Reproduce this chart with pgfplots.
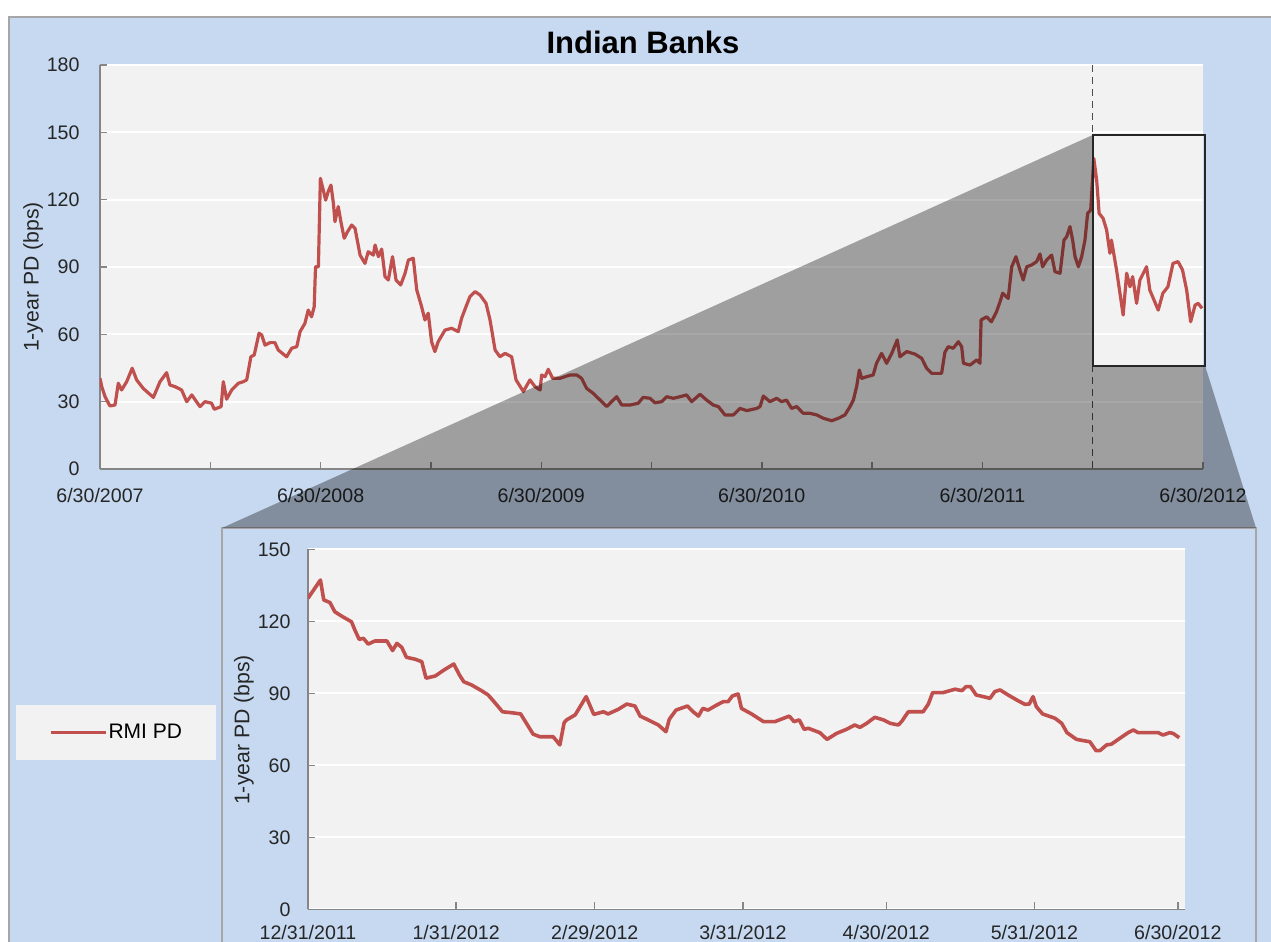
\documentclass[border=0pt]{standalone}
\usepackage{pgfplots}
\usepackage{pgfplotstable}
\pgfplotsset{compat=1.18}
\usepackage{fontspec}
\setmainfont{Liberation Sans}
\definecolor{bgblue}{HTML}{C6D9F0}
\definecolor{plotbg}{HTML}{F2F2F2}
\definecolor{axgray}{HTML}{868686}
\definecolor{rmired}{HTML}{C0504D}
\definecolor{framegray}{HTML}{A6A6A6}

\pgfplotstableread{
t v
2007.500 40.4
2007.508 36.7
2007.523 32.2
2007.545 28.1
2007.568 28.5
2007.583 38.2
2007.598 35.2
2007.621 38.9
2007.646 44.9
2007.666 39.7
2007.696 35.9
2007.742 31.9
2007.772 38.9
2007.802 42.9
2007.817 37.4
2007.840 36.7
2007.870 35.2
2007.893 30.0
2007.916 33.0
2007.953 27.8
2007.976 30.0
2008.006 29.3
2008.018 26.6
2008.049 27.8
2008.059 38.9
2008.074 31.1
2008.097 35.2
2008.127 38.2
2008.150 38.9
2008.165 39.7
2008.184 50.0
2008.199 50.8
2008.221 60.5
2008.233 59.7
2008.248 55.2
2008.271 56.3
2008.293 56.3
2008.308 53.0
2008.346 50.0
2008.369 53.8
2008.392 54.5
2008.407 61.2
2008.429 64.9
2008.444 70.8
2008.459 67.8
2008.471 72.3
2008.477 90.1
2008.490 90.1
2008.499 129.5
2008.512 124.3
2008.523 119.8
2008.534 123.5
2008.547 126.5
2008.558 118.4
2008.565 110.2
2008.580 116.9
2008.592 110.2
2008.607 102.8
2008.622 105.7
2008.641 108.7
2008.656 107.2
2008.679 95.3
2008.701 91.6
2008.716 96.8
2008.739 95.3
2008.747 99.8
2008.762 94.6
2008.777 98.0
2008.792 85.7
2008.807 84.2
2008.826 94.6
2008.842 84.2
2008.863 82.0
2008.883 87.2
2008.898 93.1
2008.920 93.9
2008.936 79.7
2008.958 72.3
2008.973 66.4
2008.988 69.4
2009.003 56.7
2009.018 52.3
2009.033 56.7
2009.064 61.9
2009.094 62.7
2009.124 61.2
2009.139 67.1
2009.159 72.3
2009.177 76.8
2009.200 79.0
2009.223 77.5
2009.250 73.8
2009.268 66.4
2009.291 53.0
2009.313 50.0
2009.336 51.5
2009.366 50.0
2009.386 39.7
2009.419 34.5
2009.449 39.7
2009.472 36.7
2009.495 35.2
2009.502 41.9
2009.517 41.1
2009.532 44.4
2009.552 40.4
2009.585 40.4
2009.631 41.9
2009.661 41.9
2009.683 40.4
2009.706 35.9
2009.736 33.7
2009.767 30.7
2009.797 27.8
2009.819 30.0
2009.842 32.2
2009.865 28.5
2009.903 28.5
2009.940 29.3
2009.962 31.9
2009.993 31.5
2010.016 29.5
2010.046 30.0
2010.069 32.2
2010.099 31.5
2010.129 32.2
2010.159 33.0
2010.182 30.0
2010.220 33.3
2010.250 30.7
2010.280 28.5
2010.303 27.8
2010.333 24.1
2010.371 24.1
2010.401 27.0
2010.432 26.0
2010.477 27.0
2010.492 27.8
2010.507 32.5
2010.537 30.0
2010.567 31.5
2010.590 30.0
2010.612 30.7
2010.635 27.0
2010.658 27.8
2010.688 24.8
2010.718 24.8
2010.749 24.1
2010.779 22.6
2010.817 21.5
2010.847 22.6
2010.877 24.1
2010.900 27.8
2010.915 30.7
2010.930 36.7
2010.942 44.1
2010.953 40.4
2010.975 41.1
2011.005 41.9
2011.020 47.1
2011.043 51.5
2011.066 47.1
2011.089 51.5
2011.114 57.5
2011.126 50.0
2011.157 52.3
2011.194 51.2
2011.225 49.3
2011.247 44.9
2011.270 42.6
2011.315 42.6
2011.330 52.0
2011.345 54.5
2011.368 53.8
2011.391 56.7
2011.406 54.5
2011.414 47.1
2011.444 46.3
2011.474 48.6
2011.489 47.1
2011.494 66.4
2011.519 67.8
2011.541 65.6
2011.564 70.1
2011.580 74.5
2011.592 78.3
2011.617 76.0
2011.633 90.1
2011.652 94.6
2011.670 88.7
2011.685 84.2
2011.701 90.1
2011.723 90.9
2011.746 92.4
2011.761 95.8
2011.773 90.1
2011.791 93.1
2011.814 95.3
2011.829 87.9
2011.852 87.2
2011.870 102.0
2011.882 103.5
2011.897 108.0
2011.909 102.0
2011.920 94.6
2011.935 90.1
2011.950 94.6
2011.965 102.0
2011.977 113.9
2011.991 115.4
2012.005 138.4
2012.018 128.7
2012.029 113.9
2012.047 111.7
2012.063 106.5
2012.078 96.1
2012.085 102.0
2012.108 88.7
2012.138 68.6
2012.154 87.2
2012.169 81.2
2012.181 85.7
2012.199 73.8
2012.214 84.2
2012.244 90.1
2012.259 79.7
2012.297 70.8
2012.318 78.3
2012.341 81.2
2012.364 91.6
2012.387 92.4
2012.407 88.7
2012.426 79.7
2012.444 65.6
2012.464 73.0
2012.478 73.8
2012.496 71.6
}\topdata

\pgfplotstableread{
d v
0 129.6
2.6 137.2
3.3 128.9
4.6 127.8
5.6 124.0
7.0 122.2
9.1 119.8
9.8 116.4
10.7 112.5
11.6 112.9
12.6 110.5
14.0 111.8
16.5 111.8
17.7 107.8
18.6 110.8
19.6 109.2
20.6 105.0
22.4 104.2
23.8 103.2
24.7 96.3
26.6 97.2
28.7 100.0
30.5 102.2
31.7 97.6
32.6 94.8
34.2 93.5
36.3 91.1
37.7 89.3
39.1 86.1
40.7 82.3
42.6 81.9
44.5 81.4
45.7 77.5
47.1 73.0
48.5 71.9
51.3 71.9
52.7 68.5
53.6 77.8
54.1 78.9
55.9 81.0
58.2 88.6
59.8 81.2
61.8 82.3
62.8 81.4
64.9 83.3
66.7 85.5
68.4 84.7
69.5 80.5
71.2 78.9
73.3 76.8
74.9 74.0
75.6 79.2
77.0 83.0
79.4 84.7
80.6 82.3
81.7 80.5
82.6 83.7
83.7 83.0
85.5 85.1
86.9 86.5
87.9 86.5
88.8 88.9
90.0 89.7
90.7 83.7
92.8 81.4
95.3 78.2
97.7 78.2
100.7 80.5
101.7 78.2
102.8 78.9
103.8 75.0
104.7 75.4
107.1 73.6
108.6 70.8
110.6 73.3
112.7 75.0
114.4 76.8
115.5 75.8
116.9 77.5
118.6 80.0
120.4 78.9
121.8 77.5
123.5 76.8
124.2 78.2
125.6 82.3
128.7 82.3
129.8 85.5
130.7 90.3
132.9 90.3
135.4 91.7
136.8 91.1
137.7 92.8
138.6 92.8
139.8 89.3
141.3 88.6
142.7 87.9
143.7 90.7
144.8 91.4
146.5 89.3
148.3 87.2
150.0 85.4
150.9 85.5
151.7 88.6
152.4 84.4
153.7 81.4
156.3 79.6
157.7 77.5
158.8 73.6
160.8 70.8
163.6 69.8
164.9 66.1
165.7 66.1
167.1 68.5
168.1 68.8
169.9 71.3
171.6 73.6
172.7 74.7
173.7 73.6
177.9 73.6
178.9 72.6
180.3 73.6
181.0 73.3
182.3 71.5
}\botdata

\pgfplotsset{
  rmistyle/.style={
    scale only axis,
    axis x line*=bottom,
    axis y line*=left,
    axis line style={axgray, line width=0.7pt},
    axis background/.style={fill=plotbg},
    ymajorgrids,
    grid style={white, line width=0.9pt},
    tick align=inside,
    major tick length=3.5pt,
    minor tick length=3.5pt,
    tick style={axgray, line width=0.7pt},
    ticklabel style={font=\fontsize{9.8}{11}\selectfont, text=black!85},
    /pgf/number format/assume math mode=true,
    label style={font=\fontsize{10.6}{12}\selectfont, text=black!85},
  },
}

\begin{document}
\begin{tikzpicture}
\useasboundingbox (0,0) rectangle (635.5pt,471pt);
\clip (0,0) rectangle (635.5pt,471pt);
\fill[white] (0,0) rectangle (635.5pt,471pt);
\filldraw[fill=bgblue, draw=framegray, line width=0.7pt] (4.5pt,462.5pt) rectangle (650pt,-10pt);
\filldraw[fill=bgblue, draw=framegray, line width=0.7pt] (111pt,207pt) rectangle (628pt,-10pt);

% ---------- top axis ----------
\begin{axis}[rmistyle,
  at={(50pt,236.5pt)}, anchor=south west,
  width=551.5pt, height=202pt,
  xmin=2007.5, xmax=2012.5, ymin=0, ymax=180,
  xtick={2007.5,2008.5,2009.5,2010.5,2011.5,2012.5},
  xticklabels={6/30/2007,6/30/2008,6/30/2009,6/30/2010,6/30/2011,6/30/2012},
  minor xtick={2008,2009,2010,2011,2012},
  ytick={0,30,60,90,120,150,180},
  xticklabel style={yshift=-6pt},
  yticklabel style={xshift=-6.7pt},
  ylabel={1-year PD (bps)},
  ylabel style={at={(axis description cs:-0.0607,0.475)}, anchor=center},
  title={Indian Banks},
  title style={at={(axis description cs:0.4923,1.057)}, anchor=center, yshift=-6pt, font=\fontsize{15.5}{17}\selectfont\bfseries},
]
\addplot[rmired, line width=1.6pt, line join=round] table[x=t, y=v] {\topdata};
\coordinate (DT) at (axis cs:2012,180);
\coordinate (DB) at (axis cs:2012,0);
\coordinate (BTL) at (axis cs:2012,148.8);
\coordinate (BBL) at (axis cs:2012,45.8);
\coordinate (BBR) at (axis cs:2012.51,45.8);
\coordinate (BTR) at (axis cs:2012.51,148.8);
\end{axis}

% ---------- bottom axis ----------
\begin{axis}[rmistyle,
  at={(154pt,16.35pt)}, anchor=south west,
  width=438.5pt, height=180pt,
  xmin=0, xmax=183.5, ymin=0, ymax=150,
  xtick={0,31,60,91,121,152,182},
  xticklabels={12/31/2011,1/31/2012,2/29/2012,3/31/2012,4/30/2012,5/31/2012,6/30/2012},
  ytick={0,30,60,90,120,150},
  xticklabel style={yshift=-4.7pt},
  yticklabel style={xshift=-5.2pt},
  ylabel={1-year PD (bps)},
  ylabel style={at={(axis description cs:-0.073,0.498)}, anchor=center},
  legend style={at={(-0.2189,0.491)}, anchor=center, draw=none, fill=plotbg,
    inner xsep=16.5pt, inner ysep=7.5pt,
    font=\fontsize{10.5}{12}\selectfont,
    nodes={inner xsep=0.6pt}},
  legend image code/.code={\draw[#1] (0pt,0pt) -- (27.5pt,0pt);},
]
\addplot[rmired, line width=1.8pt, line join=round] table[x=d, y=v] {\botdata};
\addlegendentry{RMI PD}
\end{axis}

% ---------- zoom indicator ----------
\draw[black!70, line width=0.7pt, dash pattern=on 3.5pt off 2.5pt] (DT) -- (DB);
\fill[black, opacity=0.34] (111pt,207pt) -- (BTL) -- (BBL) -- (BBR) -- (628pt,207pt) -- cycle;
\draw[black!85, line width=1pt] (BTL) rectangle (BBR);
\end{tikzpicture}
\end{document}
